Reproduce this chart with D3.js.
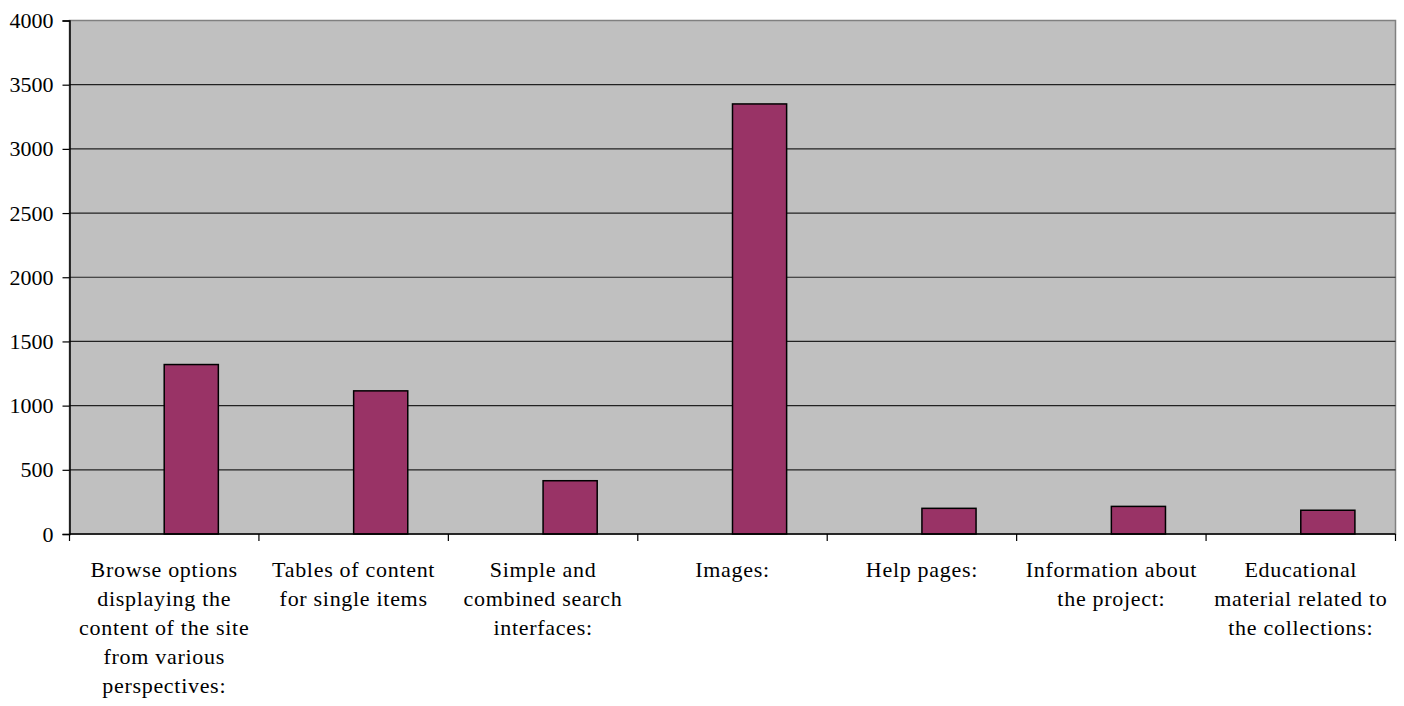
<html>
  <meta charset="utf-8" />
  <script src="https://d3js.org/d3.v7.min.js"></script>
  <body style="margin:0">
    <div id="chart"></div>
    <script>
      // categories (label lines as wrapped in the original)
      const categories = [
        ["Browse options", "displaying the", "content of the site", "from various", "perspectives:"],
        ["Tables of content", "for single items"],
        ["Simple and", "combined search", "interfaces:"],
        ["Images:"],
        ["Help pages:"],
        ["Information about", "the project:"],
        ["Educational", "material related to", "the collections:"]
      ];
      const values = [1320, 1115, 415, 3350, 200, 215, 185];
      const yTicks = [0, 500, 1000, 1500, 2000, 2500, 3000, 3500, 4000];

      const fontName = "'Liberation Serif', monospace";
      const W = 1404, H = 706;
      const plotLeft = 69.5, plotRight = 1395.5, plotTop = 20.5, plotBottom = 534;

      const svg = d3.select("#chart").append("svg")
        .attr("width", W).attr("height", H);

      const x = d3.scaleBand()
        .domain(d3.range(categories.length))
        .range([plotLeft, plotRight])
        .padding(0);

      const y = d3.scaleLinear().domain([0, 4000]).range([plotBottom, plotTop]);

      // plot area background
      svg.append("rect")
        .attr("x", plotLeft).attr("y", plotTop)
        .attr("width", plotRight - plotLeft).attr("height", plotBottom - plotTop)
        .attr("fill", "#c0c0c0")
        .attr("stroke", "#808080")
        .attr("stroke-width", 1.5);

      // gridlines
      svg.append("g")
        .selectAll("line")
        .data(yTicks.filter(d => d > 0 && d < 4000))
        .join("line")
        .attr("x1", plotLeft).attr("x2", plotRight)
        .attr("y1", d => y(d)).attr("y2", d => y(d))
        .attr("stroke", "#222")
        .attr("stroke-width", 1.2);

      // bars (second series slot of each category)
      const bw = x.bandwidth() / 3.5;
      svg.append("g")
        .selectAll("rect")
        .data(values)
        .join("rect")
        .attr("x", (d, i) => x(i) + x.bandwidth() / 2)
        .attr("y", d => y(d))
        .attr("width", bw)
        .attr("height", d => y(0) - y(d))
        .attr("fill", "#993366")
        .attr("stroke", "#000")
        .attr("stroke-width", 1.5);

      // y axis
      const yAxis = svg.append("g")
        .attr("transform", `translate(${plotLeft},0)`)
        .call(d3.axisLeft(y).tickValues(yTicks).tickSize(7).tickPadding(9).tickFormat(d3.format("d")));
      yAxis.select(".domain").attr("stroke", "#000").attr("stroke-width", 1.5);
      yAxis.selectAll(".tick line").attr("stroke", "#000").attr("stroke-width", 1.2);
      yAxis.selectAll(".tick text")
        .style("font-family", fontName)
        .style("font-size", "22px")
        .attr("fill", "#000");

      // x axis line and ticks at category boundaries
      svg.append("line")
        .attr("x1", plotLeft).attr("x2", plotRight)
        .attr("y1", plotBottom).attr("y2", plotBottom)
        .attr("stroke", "#000").attr("stroke-width", 1.5);
      svg.append("g")
        .selectAll("line")
        .data(d3.range(categories.length + 1))
        .join("line")
        .attr("x1", i => (i < categories.length ? x(i) : plotRight))
        .attr("x2", i => (i < categories.length ? x(i) : plotRight))
        .attr("y1", plotBottom).attr("y2", plotBottom + 7)
        .attr("stroke", "#000").attr("stroke-width", 1.2);

      // category labels
      const labels = svg.append("g")
        .selectAll("text")
        .data(categories)
        .join("text")
        .attr("text-anchor", "middle")
        .style("font-family", fontName)
        .style("font-size", "22px")
        .style("letter-spacing", "0.7px")
        .attr("fill", "#000")
        .attr("transform", (d, i) => `translate(${x(i) + x.bandwidth() / 2}, 577)`);
      labels.selectAll("tspan")
        .data(d => d)
        .join("tspan")
        .attr("x", 0)
        .attr("y", (d, j) => j * 29)
        .text(d => d);
    </script>
  </body>
</html>
